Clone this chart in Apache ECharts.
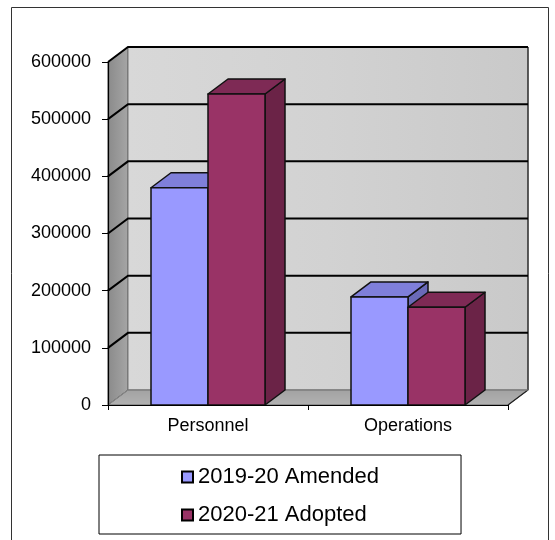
<!DOCTYPE html>
<html>
<head>
<meta charset="utf-8">
<script src="https://cdn.jsdelivr.net/npm/echarts@6/dist/echarts.min.js"></script>
<style>
  html, body { margin: 0; padding: 0; background: #ffffff; }
  #chart { width: 555px; height: 540px; }
</style>
</head>
<body>
<div id="chart"></div>
<script>
// Budget by category, two fiscal years
const categories = ['Personnel', 'Operations'];
const seriesNames = ['2019-20 Amended', '2020-21 Adopted'];
const amended2019 = [380000, 189000];
const adopted2020 = [544000, 171000];
const yTicks = [0, 100000, 200000, 300000, 400000, 500000, 600000];

// pseudo-3D projection offset for depth
const DX = 20, DY = -15;
const FONT = '"Liberation Sans", Arial, sans-serif';

const chart = echarts.init(document.getElementById('chart'), null, { renderer: 'canvas' });

function wallsItem(params, api) {
  const cs = params.coordSys;
  const x0 = cs.x, x1 = cs.x + cs.width;
  const yT = cs.y, yB = cs.y + cs.height;
  return {
    type: 'group',
    children: [
      {
        type: 'polygon',
        shape: { points: [[x0, yT], [x0 + DX, yT + DY], [x0 + DX, yB + DY], [x0, yB]] },
        style: {
          fill: new echarts.graphic.LinearGradient(0, 0, 1, 0, [
            { offset: 0, color: '#8a8a8a' }, { offset: 1, color: '#a6a6a6' }
          ]),
          stroke: '#555', lineWidth: 1
        }
      },
      {
        type: 'rect',
        shape: { x: x0 + DX, y: yT + DY, width: x1 - x0, height: yB - yT },
        style: {
          fill: new echarts.graphic.LinearGradient(0, 0, 1, 0, [
            { offset: 0, color: '#d8d8d8' }, { offset: 0.5, color: '#d2d2d2' }, { offset: 1, color: '#c9c9c9' }
          ]),
          stroke: '#777', lineWidth: 1
        }
      },
      {
        type: 'polygon',
        shape: { points: [[x0, yB], [x0 + DX, yB + DY], [x1 + DX, yB + DY], [x1, yB]] },
        style: {
          fill: new echarts.graphic.LinearGradient(0, 0, 0, 1, [
            { offset: 0, color: '#a2a2a2' }, { offset: 1, color: '#b2b2b2' }
          ]),
          stroke: '#666', lineWidth: 1
        }
      },
      {
        type: 'polyline',
        shape: { points: [[x1, yB], [x1 + DX, yB + DY], [x1 + DX, yT + DY]] },
        style: { stroke: '#222', lineWidth: 1.2, fill: null }
      }
    ]
  };
}

function gridItem(params, api) {
  const cs = params.coordSys;
  const x0 = cs.x, x1 = cs.x + cs.width;
  const v = api.value(1);
  const y = api.coord([0, v])[1];
  return {
    type: 'polyline',
    shape: { points: [[x0, y], [x0 + DX, y + DY], [x1 + DX, y + DY]] },
    style: { stroke: v === 0 ? '#888' : '#000', lineWidth: v === 0 ? 1 : 2, fill: null }
  };
}

function barItemFor(side, front, top, lateral) {
  return function (params, api) {
    const c = api.coord([api.value(0), api.value(1)]);
    const b = api.coord([api.value(0), 0]);
    const band = api.size([1, 0])[0];
    const w = band * 0.285;
    const left = side === 0 ? c[0] - w : c[0];
    const right = left + w;
    const yt = c[1], yb = b[1];
    const stroke = { stroke: '#111', lineWidth: 1.5, lineJoin: 'round' };
    return {
      type: 'group',
      children: [
        {
          type: 'polygon',
          shape: { points: [[right, yt], [right + DX, yt + DY], [right + DX, yb + DY], [right, yb]] },
          style: Object.assign({ fill: lateral }, stroke)
        },
        {
          type: 'polygon',
          shape: { points: [[left, yt], [left + DX, yt + DY], [right + DX, yt + DY], [right, yt]] },
          style: Object.assign({ fill: top }, stroke)
        },
        {
          type: 'rect',
          shape: { x: left, y: yt, width: w, height: yb - yt },
          style: Object.assign({ fill: front }, stroke)
        }
      ]
    };
  };
}

const option = {
  backgroundColor: '#ffffff',
  animation: false,
  grid: { left: 108, right: 47, top: 62, bottom: 135 },
  xAxis: {
    type: 'category',
    data: categories,
    axisLine: { show: true, lineStyle: { color: '#000', width: 1.2 } },
    axisTick: { show: true, length: 5, lineStyle: { color: '#000' } },
    axisLabel: { color: '#000', fontFamily: FONT, fontSize: 18, margin: 12 },
    splitLine: { show: false },
    z: 10
  },
  yAxis: {
    type: 'value',
    min: 0,
    max: 600000,
    interval: 100000,
    axisLine: { show: true, lineStyle: { color: '#000', width: 1.2 } },
    axisTick: { show: true, length: 6, lineStyle: { color: '#000' } },
    axisLabel: {
      color: '#000', fontFamily: FONT, fontSize: 18, margin: 17,
      formatter: v => String(v)
    },
    splitLine: { show: false },
    z: 10
  },
  legend: {
    orient: 'vertical',
    left: 99,
    top: 455,
    width: 364,
    padding: [11, 82, 8, 82],
    itemGap: 16,
    itemWidth: 11,
    itemHeight: 11,
    icon: 'rect',
    borderColor: '#000',
    borderWidth: 1,
    backgroundColor: '#fff',
    itemStyle: { borderColor: '#000', borderWidth: 2 },
    textStyle: { color: '#000', fontFamily: FONT, fontSize: 22, lineHeight: 22, padding: [0, 0, 0, 0] },
    data: seriesNames
  },
  graphic: [
    { type: 'polyline', shape: { points: [[11.5, 540], [11.5, 7.5], [548.5, 7.5], [548.5, 540]] },
      style: { stroke: '#333', lineWidth: 1, fill: null }, silent: true }
  ],
  series: [
    {
      type: 'custom', name: 'walls', renderItem: wallsItem,
      data: [[0, 0]], silent: true, z: 1
    },
    {
      type: 'custom', name: 'gridlines', renderItem: gridItem,
      data: yTicks.map(v => [0, v]), silent: true, z: 2
    },
    {
      type: 'custom', name: seriesNames[0],
      renderItem: barItemFor(0, '#9999ff', '#7f7fda', '#6a6ab8'),
      itemStyle: { color: '#9999ff' },
      data: amended2019.map((v, i) => [i, v]), z: 3
    },
    {
      type: 'custom', name: seriesNames[1],
      renderItem: barItemFor(1, '#993366', '#7e2a55', '#6b2347'),
      itemStyle: { color: '#993366' },
      data: adopted2020.map((v, i) => [i, v]), z: 4
    }
  ]
};

chart.setOption(option);
</script>
</body>
</html>
